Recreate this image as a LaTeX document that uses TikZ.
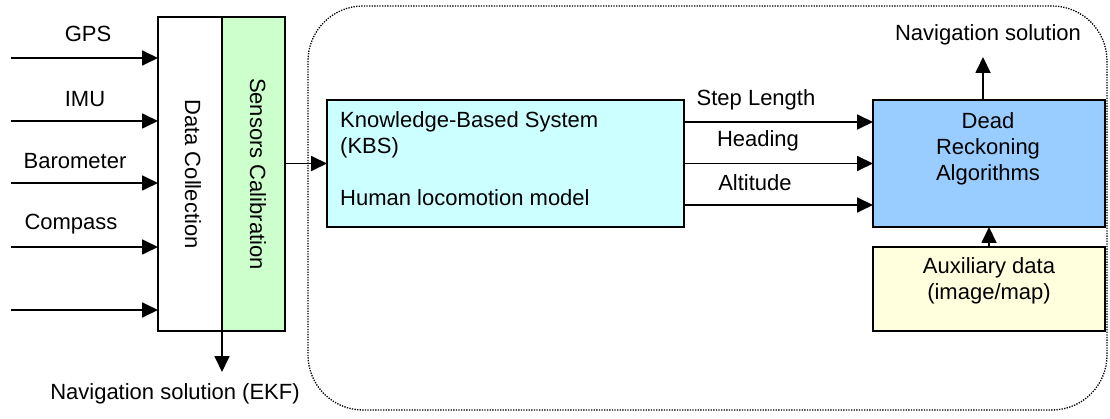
\documentclass[tikz,border=0pt]{standalone}
\usepackage{fontspec}
\setmainfont{Liberation Sans}
\usetikzlibrary{arrows.meta,positioning}

\definecolor{calgreen}{HTML}{CCFFCC}
\definecolor{kbscyan}{HTML}{CCFFFF}
\definecolor{drblue}{HTML}{99CCFF}
\definecolor{auxyellow}{HTML}{FFFFDD}

\begin{document}
\begin{tikzpicture}[x=1pt, y=-1pt,
    every node/.style={font=\fontsize{22}{26}\selectfont, inner sep=0pt},
    blk/.style={draw, line width=1.8pt, outer sep=0pt},
    arr/.style={line width=1.8pt, -{Triangle[length=16pt,width=15pt]}}]
  \useasboundingbox (0,0) rectangle (1110,419);

  % outer dotted frame
  \draw[line width=1.3pt, dash pattern=on 1.3pt off 1.3pt, rounded corners=55] (308,6) rectangle (1107,410);

  % data collection / calibration
  \node[blk, fill=white, minimum width=64, minimum height=314] (dc) at (190,174) {};
  \node[blk, fill=calgreen, minimum width=63, minimum height=314, right=0pt of dc] (sc) {};
  \node[rotate=-90] (dctxt) at (193,174) {Data Collection};
  \node[rotate=-90] (sctxt) at (258,174) {Sensors Calibration};

  \foreach \i/\y in {1/58, 2/121, 3/183, 4/247, 5/310}{
    \coordinate (in\i) at (11,\y);
    \draw[arr] (in\i) -- (in\i -| dc.west);
  }
  \node (gps) at (88,34) {GPS};
  \node (imu) at (85,99) {IMU};
  \node (baro) at (75,161) {Barometer};
  \node (comp) at (71,224) {Compass};

  \coordinate (ekf) at (222,372);
  \draw[arr] (dc.south east) -- (ekf);
  \node (ekftxt) at (175,394) {Navigation solution (EKF)};

  % knowledge based system
  \node[blk, fill=kbscyan, minimum width=357, minimum height=127] (kbs) at (505.5,163.5) {};
  \node[anchor=north west, align=left] (kbstxt) at (340,111)
    {Knowledge-Based System\\(KBS)\\[26pt]Human locomotion model};
  \draw[arr] (sc.east |- kbs.west) -- (kbs.west);

  % dead reckoning
  \node[blk, fill=drblue, minimum width=232, minimum height=127] (dr) at (989,163.5) {};
  \node[anchor=north, align=center] (drtxt) at (988,112) {Dead\\Reckoning\\Algorithms};

  \foreach \s in {41.5, 0, -41.5}{
    \draw[arr] ([yshift=\s]kbs.east) -- ([yshift=\s]dr.west);
  }
  \node (steplen) at (756,100) {Step Length};
  \node (head) at (758,141) {Heading};
  \node (alt) at (755,183) {Altitude};

  \coordinate (navout) at (983,57);
  \draw[arr] (navout |- dr.north) -- (navout);
  \node (navtxt) at (988,35) {Navigation solution};

  % auxiliary data
  \node[blk, fill=auxyellow, minimum width=232, minimum height=84] (aux) at (989,289) {};
  \node[align=center] (auxtxt) at (989,281) {Auxiliary data\\(image/map)};
  \draw[arr] (aux.north) -- (dr.south);
\end{tikzpicture}
\end{document}
